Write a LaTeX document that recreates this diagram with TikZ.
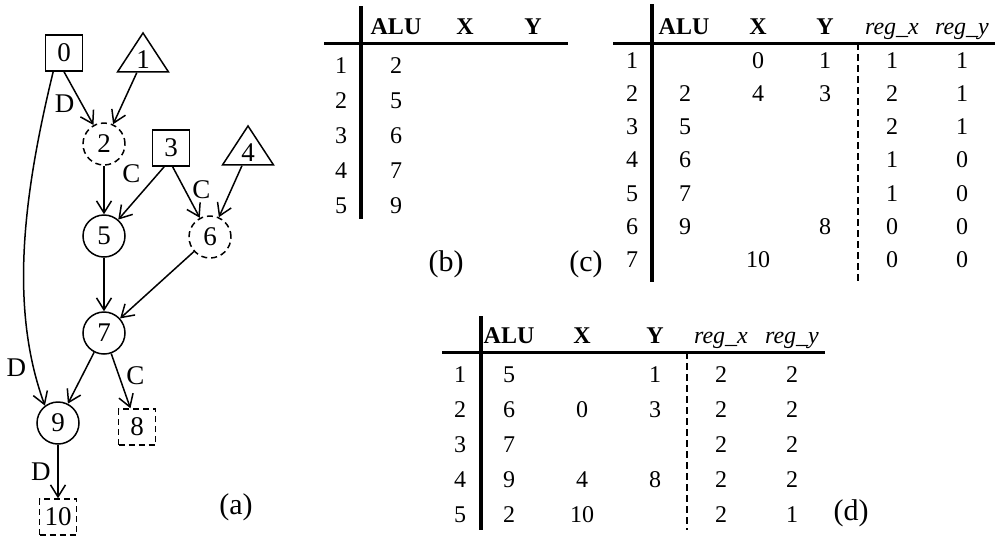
\documentclass[tikz,border=0pt]{standalone}
\usepackage{fontspec}
\setmainfont{Liberation Serif}
\usetikzlibrary{arrows.meta,shapes.geometric}

\begin{document}
\begin{tikzpicture}[x=0.5pt,y=-0.5pt,
  font=\fontsize{13.5}{15}\selectfont,
  arr/.style={draw,line width=0.75pt,-{Straight Barb[length=6pt,width=7.5pt]}},
  op/.style={circle,draw,line width=0.75pt,minimum size=21pt,inner sep=0pt},
  dop/.style={op,dash pattern=on 3pt off 2pt},
  reg/.style={rectangle,draw,line width=0.75pt,minimum width=18.5pt,minimum height=18pt,inner sep=0pt},
  dreg/.style={reg,dash pattern=on 3pt off 2pt},
  inp/.style={isosceles triangle,isosceles triangle stretches,shape border rotate=90,
    draw,line width=0.75pt,minimum width=25.5pt,minimum height=19.5pt,inner sep=0pt},
  cell/.style={anchor=base,inner sep=0pt,font=\fontsize{12}{14}\selectfont},
  head/.style={cell,font=\fontsize{12}{14}\selectfont\bfseries},
  capt/.style={inner sep=0pt,font=\fontsize{15}{17}\selectfont},
  vbar/.style={line width=2pt},
  hbar/.style={line width=1.5pt},
  sep/.style={line width=1pt,dash pattern=on 3.5pt off 2pt}]
\useasboundingbox (0,0) rectangle (995,538);

% (a) dependence graph
\node[reg] (n0) at (64,53) {0};
\node[inp,anchor=apex] (n1) at (143,31) {1};
\node[dop] (n2) at (104,144) {2};
\node[reg] (n3) at (171,148) {3};
\node[inp,anchor=apex] (n4) at (248,124) {4};
\node[op] (n5) at (104,236) {5};
\node[dop] (n6) at (210,237) {6};
\node[op] (n7) at (104,333) {7};
\node[dreg] (n8) at (137,427) {8};
\node[op] (n9) at (58,423) {9};
\node[dreg] (n10) at (58,517) {10};

\draw[arr] (n0.south) -- node[pos=0.6,left]{D} (n2);
\draw[arr] (n1) -- (n2);
\draw[arr] (n0.-120) .. controls (22,200) and (10,310) .. node[pos=0.87,left]{D} (n9.127);
\draw[arr] (n2) -- (n5);
\draw[arr] (n3.-110) -- node[pos=0.4,above left=-1pt]{C} (n5);
\draw[arr] (n3.-85) -- node[pos=0.45,right]{C} (n6);
\draw[arr] (n4) -- (n6);
\draw[arr] (n5) -- (n7);
\draw[arr] (n6) -- (n7);
\draw[arr] (n7) -- (n9);
\draw[arr] (n7) -- node[pos=0.4,right]{C} (n8);
\draw[arr] (n9) -- node[left]{D} (n10);
\node[capt] (cap-a) at (236,507) {(a)};

% (b)
\draw[vbar] (361,6) -- (361,219);
\draw[hbar] (324,43) -- (568,43);
\node[head] (b-alu) at (396,34) {ALU};
\node[head] (b-x) at (465,34) {X};
\node[head] (b-y) at (533,34) {Y};
\foreach \a [count=\i] in {2,5,6,7,9} {
  \node[cell] (b-n\i) at (341,{73+35*(\i-1)}) {\i};
  \node[cell] (b-a\i) at (396,{73+35*(\i-1)}) {\a};
}
\node[capt] (cap-b) at (446,264) {(b)};

% (c)
\draw[vbar] (652,4) -- (652,282);
\draw[hbar] (613,43) -- (995,43);
\draw[sep] (858,43) -- (858,282);
\node[head] (c-alu) at (684,34) {ALU};
\node[head] (c-x) at (758,34) {X};
\node[head] (c-y) at (825,34) {Y};
\node[cell] (c-rx) at (892,34) {\textit{reg\_x}};
\node[cell] (c-ry) at (962,34) {\textit{reg\_y}};
\foreach \a/\x/\y/\rx/\ry [count=\i] in {{}/0/1/1/1,2/4/3/2/1,5/{}/{}/2/1,6/{}/{}/1/0,7/{}/{}/1/0,9/{}/8/0/0,{}/10/{}/0/0} {
  \node[cell] (c-n\i) at (632,{68+33.3*(\i-1)}) {\i};
  \node[cell] (c-a\i) at (685,{68+33.3*(\i-1)}) {\a};
  \node[cell] (c-x\i) at (758,{68+33.3*(\i-1)}) {\x};
  \node[cell] (c-y\i) at (825,{68+33.3*(\i-1)}) {\y};
  \node[cell] (c-rx\i) at (892,{68+33.3*(\i-1)}) {\rx};
  \node[cell] (c-ry\i) at (962,{68+33.3*(\i-1)}) {\ry};
}
\node[capt] (cap-c) at (586,264) {(c)};

% (d)
\draw[vbar] (481,316) -- (481,530);
\draw[hbar] (442,352) -- (825,352);
\draw[sep] (687,352) -- (687,530);
\node[head] (d-alu) at (509,343) {ALU};
\node[head] (d-x) at (582,343) {X};
\node[head] (d-y) at (655,343) {Y};
\node[cell] (d-rx) at (721,343) {\textit{reg\_x}};
\node[cell] (d-ry) at (792,343) {\textit{reg\_y}};
\foreach \a/\x/\y/\rx/\ry [count=\i] in {5/{}/1/2/2,6/0/3/2/2,7/{}/{}/2/2,9/4/8/2/2,2/10/{}/2/1} {
  \node[cell] (d-n\i) at (460,{382+35*(\i-1)}) {\i};
  \node[cell] (d-a\i) at (509,{382+35*(\i-1)}) {\a};
  \node[cell] (d-x\i) at (582,{382+35*(\i-1)}) {\x};
  \node[cell] (d-y\i) at (655,{382+35*(\i-1)}) {\y};
  \node[cell] (d-rx\i) at (721,{382+35*(\i-1)}) {\rx};
  \node[cell] (d-ry\i) at (792,{382+35*(\i-1)}) {\ry};
}
\node[capt] (cap-d) at (851,513) {(d)};
\end{tikzpicture}
\end{document}
